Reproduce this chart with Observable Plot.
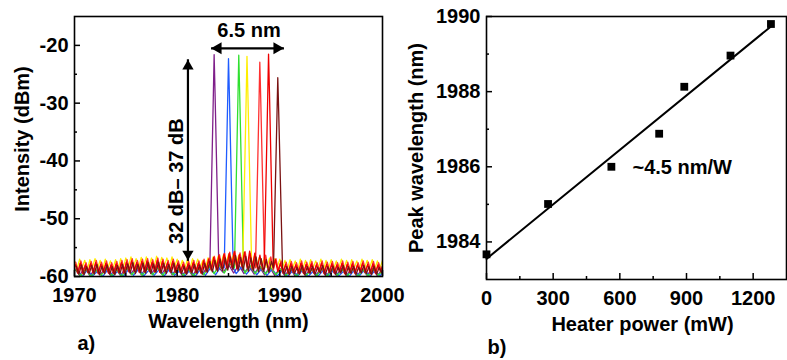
<!DOCTYPE html>
<html>
<head>
<meta charset="utf-8">
<script src="https://cdn.jsdelivr.net/npm/d3@7"></script>
<script src="https://cdn.jsdelivr.net/npm/@observablehq/plot@0.6"></script>
<style>
  html, body { margin: 0; padding: 0; background: #fff; }
  #wrap { position: relative; width: 787px; height: 360px; overflow: hidden; }
  #left { position: absolute; left: 0; top: 0; }
  #right { position: absolute; left: 400px; top: 0; }
  svg { overflow: visible; }
</style>
</head>
<body>
<div id="wrap"><div id="left"></div><div id="right"></div></div>
<script>
// ---------- Panel a) : spectra ----------
const seriesNames = ["purple", "blue", "green", "yellow", "red1", "red2", "brown"];
const seriesColors = ["#7f1f8a", "#1f5cff", "#2fe02f", "#ffee00", "#ff3030", "#ee0000", "#7a1212"];
const peakCenters = [1983.6, 1985.0, 1986.0, 1986.8, 1988.05, 1988.9, 1989.8];   // nm
const peakLevels  = [-21.6, -22.3, -21.7, -21.9, -22.9, -21.5, -25.6];           // dBm
// shared peak profile (offset from centre in nm, fraction of peak height above base)
const peakOffsets = [-0.42, -0.08, 0, 0.09, 0.46];
const peakFrac    = [0, 0.8, 1, 0.82, 0];
const peakBase = -58.5;
// noise floor samples starting at 1970 nm
const floorStep  = [0.5, 0.5, 0.5, 0.25, 0.25, 0.25, 0.25];
const floorPhase = [0, 0.25, 0.1, 0, 0.12, 0.06, 0.18];
const floorPurple = [-58.6,-59.8,-58.4,-59.9,-58.7,-59.7,-58.5,-59.8,-58.6,-59.9,
  -58.3,-59.6,-58.2,-59.7,-58.4,-59.5,-58.3,-59.6,-58.2,-59.7,
  -58.5,-59.8,-58.6,-59.9,-58.4,-59.6,-58.0,-59.5,-57.8,-59.3,
  -57.9,-59.4,-58.0,-59.5,-58.2,-59.6,-58.3,-59.7,-58.4,-59.8,
  -58.6,-59.9,-58.5,-60.0,-58.7,-59.8,-58.6,-59.9,-58.5,-60.0,
  -58.7,-59.8,-58.6,-59.9,-58.5,-60.0,-58.7,-59.8,-58.6,-59.9,-58.7];
const floorBlue = [-59.0,-60.0,-58.9,-59.9,-59.1,-60.0,-58.8,-59.9,-59.0,-60.0,
  -58.8,-59.8,-58.7,-59.9,-58.9,-59.8,-58.8,-59.9,-58.7,-59.8,
  -59.0,-59.9,-58.9,-60.0,-58.8,-59.8,-58.5,-59.7,-58.3,-59.6,
  -58.2,-59.5,-58.4,-59.6,-58.5,-59.7,-58.6,-59.8,-58.7,-59.9,
  -58.9,-60.0,-59.0,-59.9,-58.8,-60.0,-59.1,-59.9,-58.9,-60.0,
  -58.8,-59.9,-59.0,-60.0,-58.9,-59.9,-58.8,-60.0,-59.0,-59.9,-58.9];
const floorGreen = [-58.8,-59.9,-58.7,-60.0,-58.9,-59.8,-58.6,-59.9,-58.8,-60.0,
  -58.5,-59.7,-58.4,-59.8,-58.6,-59.7,-58.5,-59.8,-58.4,-59.7,
  -58.7,-59.8,-58.8,-59.9,-58.6,-59.7,-58.2,-59.5,-58.0,-59.4,
  -57.8,-59.3,-57.9,-59.4,-58.1,-59.5,-58.3,-59.6,-58.4,-59.7,
  -58.7,-59.9,-58.6,-60.0,-58.8,-59.8,-58.7,-59.9,-58.6,-60.0,
  -58.7,-59.8,-58.8,-59.9,-58.6,-60.0,-58.8,-59.9,-58.7,-59.8,-58.8];
const floorYellow = [
  -57.3,-58.7,-57.0,-58.5,-57.2,-58.8,-57.1,-58.4,-56.9,-58.6,-57.2,-58.7,-57.0,-58.5,-57.3,-58.6,-57.1,-58.8,-56.9,-58.5,
  -56.8,-58.4,-56.6,-58.3,-56.9,-58.5,-56.7,-58.2,-56.6,-58.4,-56.8,-58.3,-56.5,-58.4,-56.7,-58.2,-56.8,-58.5,-56.6,-58.3,
  -57.0,-58.6,-57.2,-58.5,-57.1,-58.7,-56.9,-58.4,-57.0,-58.5,-57.2,-58.6,-56.8,-58.3,-56.6,-58.2,-56.5,-58.0,-56.3,-57.9,
  -56.2,-57.8,-56.0,-57.9,-56.3,-58.0,-56.1,-58.1,-56.4,-58.2,-56.5,-58.3,-56.7,-58.2,-56.6,-58.4,-56.8,-58.5,-56.9,-58.4,
  -57.0,-58.6,-57.2,-58.7,-57.1,-58.5,-57.3,-58.8,-57.0,-58.6,-57.2,-58.7,-57.1,-58.5,-57.3,-58.6,-57.0,-58.8,-57.2,-58.6,
  -57.1,-58.7,-57.3,-58.5,-57.0,-58.6,-57.2,-58.8,-57.1,-58.5,-57.3,-58.7,-57.0,-58.6,-57.2,-58.5,-57.1,-58.7,-57.3,-58.6,-57.2];
const floorRed1 = [
  -57.5,-59.2,-57.3,-59.0,-57.6,-59.3,-57.4,-59.1,-57.2,-59.2,-57.5,-59.0,-57.3,-59.3,-57.6,-59.1,-57.4,-59.2,-57.2,-59.0,
  -57.1,-58.9,-56.9,-59.0,-57.2,-58.8,-57.0,-59.1,-56.9,-58.9,-57.1,-58.8,-56.8,-59.0,-57.0,-58.9,-57.2,-59.1,-57.0,-58.9,
  -57.3,-59.1,-57.5,-59.2,-57.4,-59.0,-57.2,-59.1,-57.3,-59.2,-57.0,-58.9,-56.8,-58.7,-56.5,-58.6,-56.2,-58.5,-56.0,-58.4,
  -55.8,-58.3,-55.6,-58.5,-55.9,-58.2,-55.7,-58.4,-56.0,-58.6,-55.8,-58.5,-56.1,-58.7,-56.3,-58.8,-56.6,-58.9,-56.9,-59.0,
  -57.3,-59.2,-57.5,-59.3,-57.4,-59.1,-57.6,-59.2,-57.3,-59.3,-57.5,-59.1,-57.4,-59.2,-57.6,-59.0,-57.3,-59.3,-57.5,-59.1,
  -57.4,-59.2,-57.6,-59.0,-57.3,-59.3,-57.5,-59.1,-57.4,-59.2,-57.6,-59.0,-57.3,-59.1,-57.5,-59.3,-57.4,-59.2,-57.6,-59.0,-57.5];
const floorRed2 = [
  -57.9,-59.4,-57.7,-59.5,-58.0,-59.3,-57.8,-59.4,-57.6,-59.5,-57.9,-59.3,-57.7,-59.4,-58.0,-59.5,-57.8,-59.3,-57.6,-59.4,
  -57.5,-59.2,-57.3,-59.1,-57.6,-59.3,-57.4,-59.2,-57.3,-59.1,-57.5,-59.2,-57.2,-59.3,-57.4,-59.1,-57.6,-59.2,-57.4,-59.3,
  -57.7,-59.3,-57.9,-59.4,-57.8,-59.2,-57.6,-59.3,-57.7,-59.4,-57.3,-59.1,-57.0,-58.9,-56.7,-58.8,-56.4,-58.6,-56.1,-58.5,
  -56.0,-58.4,-55.7,-58.6,-56.2,-58.3,-55.8,-58.5,-55.6,-58.7,-56.0,-58.6,-56.3,-58.8,-56.5,-58.9,-56.8,-59.0,-57.1,-59.2,
  -57.7,-59.4,-57.9,-59.5,-57.8,-59.3,-58.0,-59.4,-57.7,-59.5,-57.9,-59.3,-57.8,-59.4,-58.0,-59.2,-57.7,-59.5,-57.9,-59.3,
  -57.8,-59.4,-58.0,-59.2,-57.7,-59.5,-57.9,-59.3,-57.8,-59.4,-58.0,-59.2,-57.7,-59.3,-57.9,-59.5,-57.8,-59.4,-58.0,-59.2,-57.9];
const floorBrown = [
  -58.2,-59.6,-58.0,-59.7,-58.3,-59.5,-58.1,-59.6,-57.9,-59.7,-58.2,-59.5,-58.0,-59.6,-58.3,-59.7,-58.1,-59.5,-57.9,-59.6,
  -57.8,-59.4,-57.6,-59.5,-57.9,-59.3,-57.7,-59.4,-57.6,-59.5,-57.8,-59.3,-57.5,-59.4,-57.7,-59.5,-57.9,-59.3,-57.7,-59.4,
  -58.0,-59.5,-58.2,-59.6,-58.1,-59.4,-57.9,-59.5,-58.0,-59.6,-57.7,-59.3,-57.4,-59.2,-57.2,-59.1,-57.0,-59.0,-56.8,-58.9,
  -56.6,-58.8,-56.4,-59.0,-56.7,-58.9,-56.5,-59.1,-56.8,-59.0,-56.6,-59.2,-56.9,-59.1,-57.1,-59.3,-57.4,-59.2,-57.7,-59.4,
  -58.1,-59.6,-58.3,-59.7,-58.2,-59.5,-58.4,-59.6,-58.1,-59.7,-58.3,-59.5,-58.2,-59.6,-58.4,-59.4,-58.1,-59.7,-58.3,-59.5,
  -58.2,-59.6,-58.4,-59.4,-58.1,-59.7,-58.3,-59.5,-58.2,-59.6,-58.4,-59.4,-58.1,-59.5,-58.3,-59.7,-58.2,-59.6,-58.4,-59.4,-58.3];
const floors = [floorPurple, floorBlue, floorGreen, floorYellow, floorRed1, floorRed2, floorBrown];

const xTicksA = [1970, 1980, 1990, 2000];
const xMinorA = [1975, 1985, 1995];
const yTicksA = [-20, -30, -40, -50, -60];
const yMinorA = [-25, -35, -45, -55];

// ---------- Panel b) : tuning ----------
const heaterPower = [0, 277, 562, 777, 890, 1098, 1280];             // mW
const peakWavelength = [1983.67, 1985.01, 1986.0, 1986.88, 1988.13, 1988.96, 1989.8]; // nm
const xTicksB = [0, 300, 600, 900, 1200];
const xMinorB = [150, 450, 750, 1050];
const yTicksB = [1984, 1986, 1988, 1990];
const yMinorB = [1985, 1987, 1989];

const FONT = "'Liberation Sans', Arial, Helvetica, sans-serif";
const FS = 20;
const bold = {fontSize: FS, fontWeight: "bold", fill: "#000"};

// Build spectra
const spectra = seriesNames.map((name, s) => {
  const c = peakCenters[s];
  const lo = c + peakOffsets[0], hi = c + peakOffsets[peakOffsets.length - 1];
  const pts = [];
  floors[s].forEach((v, i) => {
    const x = 1970 + i * floorStep[s] + floorPhase[s];
    if (x < lo || x > hi) pts.push({x, y: v});
  });
  peakOffsets.forEach((o, k) => pts.push({x: c + o, y: peakBase + peakFrac[k] * (peakLevels[s] - peakBase)}));
  pts.sort((a, b) => a.x - b.x);
  return pts;
});

const hArrow = [{x1: 1983.3, x2: 1990.4, y: -20.5}];
const vArrow = [{x: 1981.05, y1: -22.4, y2: -57.3}];

const plotA = Plot.plot({
  width: 400, height: 360,
  marginLeft: 74, marginRight: 18, marginTop: 16, marginBottom: 84,
  style: {fontFamily: FONT, fontSize: FS + "px", fontWeight: "bold", overflow: "visible", background: "transparent", color: "#000"},
  x: {domain: [1970, 2000]},
  y: {domain: [-60, -15]},
  marks: [
    ...spectra.map((pts, s) => Plot.line(pts, {x: "x", y: "y", stroke: seriesColors[s], strokeWidth: 1.3, clip: true})),
    Plot.frame({stroke: "#000", strokeWidth: 1.6}),
    Plot.axisX({ticks: xTicksA, tickSize: -6, tickPadding: 17, tickFormat: d => String(d), label: null, strokeWidth: 1.5, ...bold}),
    Plot.axisX({ticks: xMinorA, tickSize: -3, tickFormat: () => "", label: null, strokeWidth: 1.5}),
    Plot.axisY({ticks: yTicksA, tickSize: -6, tickPadding: 12, tickFormat: d => String(d), label: null, strokeWidth: 1.5, ...bold}),
    Plot.axisY({ticks: yMinorA, tickSize: -3, tickFormat: () => "", label: null, strokeWidth: 1.5}),
    // horizontal double arrow (6.5 nm)
    Plot.link(hArrow, {x1: "x1", x2: "x2", y1: "y", y2: "y", stroke: "#000", strokeWidth: 2.2}),
    Plot.dot(hArrow, {x: "x1", y: "y", symbol: "triangle", r: 4.5, fill: "#000", rotate: -90, dx: 7}),
    Plot.dot(hArrow, {x: "x2", y: "y", symbol: "triangle", r: 4.5, fill: "#000", rotate: 90, dx: -7}),
    Plot.text(["6.5 nm"], {text: d => d, x: 1987.0, y: -17.4, lineAnchor: "middle", textAnchor: "middle", ...bold}),
    // vertical double arrow (32 dB – 37 dB)
    Plot.link(vArrow, {x1: "x", x2: "x", y1: "y1", y2: "y2", stroke: "#000", strokeWidth: 2.2}),
    Plot.dot(vArrow, {x: "x", y: "y1", symbol: "triangle", r: 4.2, fill: "#000", rotate: 0, dy: 7}),
    Plot.dot(vArrow, {x: "x", y: "y2", symbol: "triangle", r: 4.2, fill: "#000", rotate: 180, dy: -7}),
    Plot.text(["32 dB\u2013 37 dB"], {text: d => d, x: 1979.9, y: -43.5, rotate: -90, lineAnchor: "middle", textAnchor: "middle", ...bold}),
    // axis titles and panel tag
    Plot.text(["Wavelength (nm)"], {text: d => d, frameAnchor: "bottom", dy: 45, lineAnchor: "middle", textAnchor: "middle", ...bold}),
    Plot.text(["Intensity (dBm)"], {text: d => d, frameAnchor: "left", dx: -52, dy: -7.5, rotate: -90, lineAnchor: "middle", textAnchor: "middle", ...bold}),
    Plot.text(["a)"], {text: d => d, frameAnchor: "bottom-left", dx: 3, dy: 67, textAnchor: "start", lineAnchor: "middle", ...bold})
  ]
});
document.getElementById("left").append(plotA);

const tuning = heaterPower.map((p, i) => ({p, w: peakWavelength[i]}));

const plotB = Plot.plot({
  width: 387, height: 360,
  marginLeft: 86, marginRight: 1, marginTop: 16, marginBottom: 81,
  style: {fontFamily: FONT, fontSize: FS + "px", fontWeight: "bold", overflow: "visible", background: "transparent", color: "#000"},
  x: {domain: [0, 1350]},
  y: {domain: [1983, 1990]},
  marks: [
    Plot.frame({stroke: "#000", strokeWidth: 1.6}),
    Plot.axisX({ticks: xTicksB, tickSize: -6, tickPadding: 17, tickFormat: d => String(d), label: null, strokeWidth: 1.5, ...bold}),
    Plot.axisX({ticks: xMinorB, tickSize: -3, tickFormat: () => "", label: null, strokeWidth: 1.5}),
    Plot.axisY({ticks: yTicksB, tickSize: -6, tickPadding: 12, tickFormat: d => String(d), label: null, strokeWidth: 1.5, ...bold}),
    Plot.axisY({ticks: yMinorB, tickSize: -3, tickFormat: () => "", label: null, strokeWidth: 1.5}),
    Plot.linearRegressionY(tuning, {x: "p", y: "w", ci: 0, stroke: "#000", strokeWidth: 2}),
    Plot.dot(tuning, {x: "p", y: "w", symbol: "square", r: 4.4, fill: "#000", stroke: null}),
    Plot.text(["~4.5 nm/W"], {text: d => d, x: 657, y: 1985.98, textAnchor: "start", lineAnchor: "middle", ...bold}),
    Plot.text(["Heater power (mW)"], {text: d => d, frameAnchor: "bottom", dx: 6, dy: 45, lineAnchor: "middle", textAnchor: "middle", ...bold}),
    Plot.text(["Peak wavelength (nm)"], {text: d => d, frameAnchor: "left", dx: -70, rotate: -90, lineAnchor: "middle", textAnchor: "middle", ...bold}),
    Plot.text(["b)"], {text: d => d, frameAnchor: "bottom-left", dx: 1, dy: 68, textAnchor: "start", lineAnchor: "middle", ...bold})
  ]
});
document.getElementById("right").append(plotB);
</script>
</body>
</html>
